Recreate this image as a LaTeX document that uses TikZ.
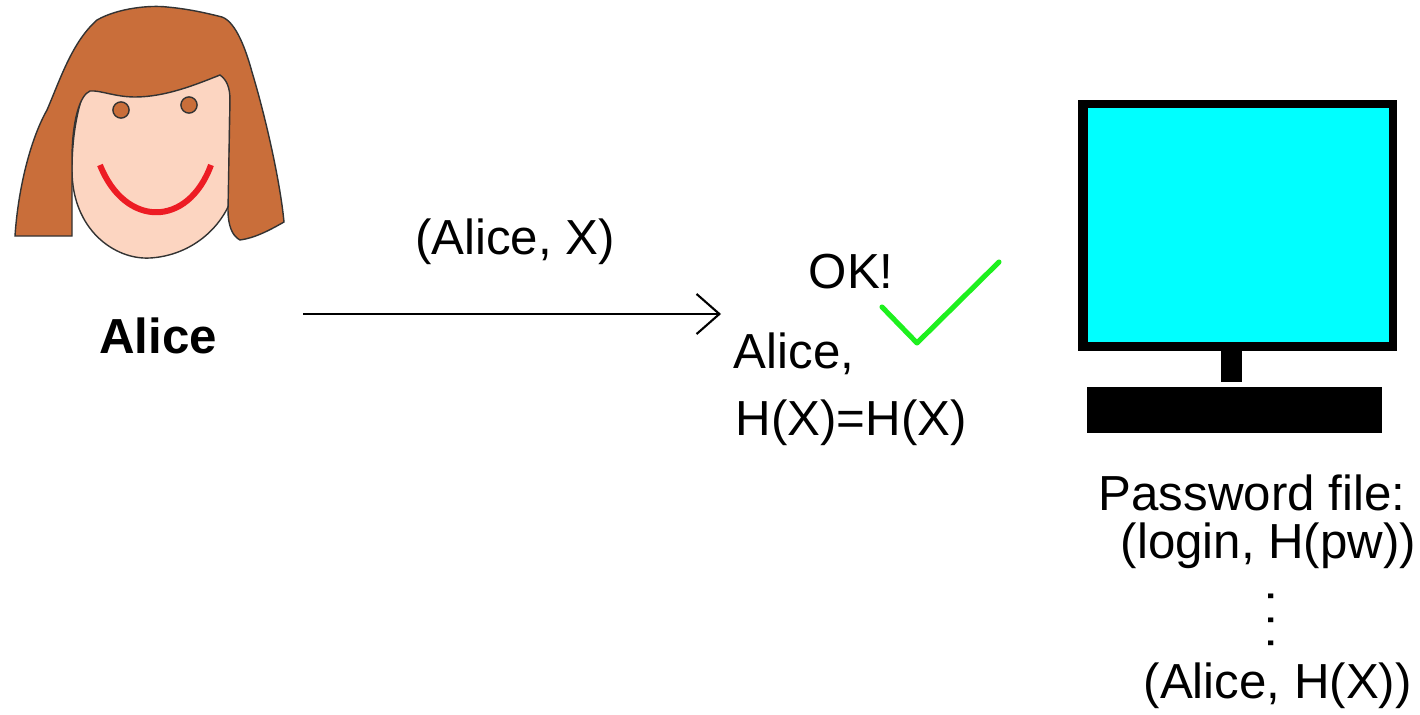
\documentclass[tikz,border=0pt]{standalone}
\usepackage{fontspec}
\setmainfont{Liberation Sans}
\usetikzlibrary{arrows.meta}

\definecolor{hair}{RGB}{201,110,58}
\definecolor{skin}{RGB}{252,213,193}
\definecolor{lips}{RGB}{237,28,36}
\definecolor{okgreen}{RGB}{30,240,30}
\definecolor{screen}{RGB}{0,255,255}

\tikzset{
  txt/.style={inner sep=0pt, anchor=base west, font=\fontsize{14}{16}\selectfont},
  ctxt/.style={txt, anchor=base},
  outline/.style={draw=black!80, line width=0.4pt},
  msg/.style={line width=0.6pt, -{Straight Barb[length=6.5pt,width=11.4pt]}},
}

\begin{document}
\begin{tikzpicture}[x=0.01cm, y=-0.01cm]
\useasboundingbox (0,0) rectangle (1420,715);

% --- Alice: face, hair, eyes, smile
\fill[skin, outline] (88,80) .. controls (76,110) and (72,140) .. (72,170)
  .. controls (72,230) and (115,260) .. (150,258)
  .. controls (185,256) and (215,235) .. (229,205)
  -- (230,80) -- (200,55) -- (110,55) -- cycle;

\fill[hair, outline] (15,236)
  .. controls (18,190) and (30,140) .. (47,110)
  .. controls (60,80) and (72,42) .. (97,20)
  .. controls (118,8) and (150,5) .. (167,7)
  .. controls (190,9) and (210,14) .. (222,17)
  .. controls (236,22) and (246,50) .. (252,72)
  .. controls (265,115) and (280,180) .. (284,222)
  .. controls (270,230) and (255,238) .. (240,240)
  .. controls (232,236) and (228,225) .. (228,210)
  -- (230,100)
  .. controls (230,88) and (227,80) .. (220,75)
  .. controls (195,85) and (165,97) .. (135,97)
  .. controls (115,97) and (100,90) .. (90,91)
  .. controls (80,95) and (72,120) .. (72,160)
  -- (72,236) -- cycle;

\filldraw[fill=hair, outline] (121,110) circle (2.3pt);
\filldraw[fill=hair, outline] (189,105) circle (2.3pt);

\draw[lips, line width=1.7pt] (100,165) .. controls (125,228) and (188,228) .. (211,165);

\node[ctxt, font=\fontsize{14}{16}\selectfont\bfseries] (alice) at (158,353) {Alice};

% --- message sent to the server
\coordinate (src) at (303,314);
\coordinate (dst) at (721,314);
\draw[msg] (src) -- (dst);
\node[ctxt] (msglabel) at (515,254) {(Alice, X)};

% --- check on the server side
\node[txt] (ok) at (808,288) {OK!};
\node[txt] (who) at (733,368) {Alice,};
\node[txt] (cmp) at (735,435) {H(X)=H(X)};
\coordinate (t1) at (882,307);
\coordinate (t2) at (917,343);
\coordinate (t3) at (999,262);
\draw[okgreen, line width=1.45pt, line cap=round, line join=round] (t1) -- (t2) -- (t3);

% --- computer
\fill[black] (1078,100) rectangle (1397,351);
\fill[screen] (1088,108) rectangle (1389,342);
\fill[black] (1221,351) rectangle (1242,382);
\fill[black] (1087,387) rectangle (1382,433);

% --- password file
\node[txt] (pwfile) at (1098,510) {Password file:};
\node[txt] (row1) at (1120,558) {(login, H(pw))};
\node[inner sep=0pt, rotate=-90, font=\fontsize{14}{16}\selectfont] (dots) at (1271,620)
  {.\hspace{2.8pt}.\hspace{2.8pt}.};
\node[txt] (row2) at (1143,698) {(Alice, H(X))};
\end{tikzpicture}
\end{document}
